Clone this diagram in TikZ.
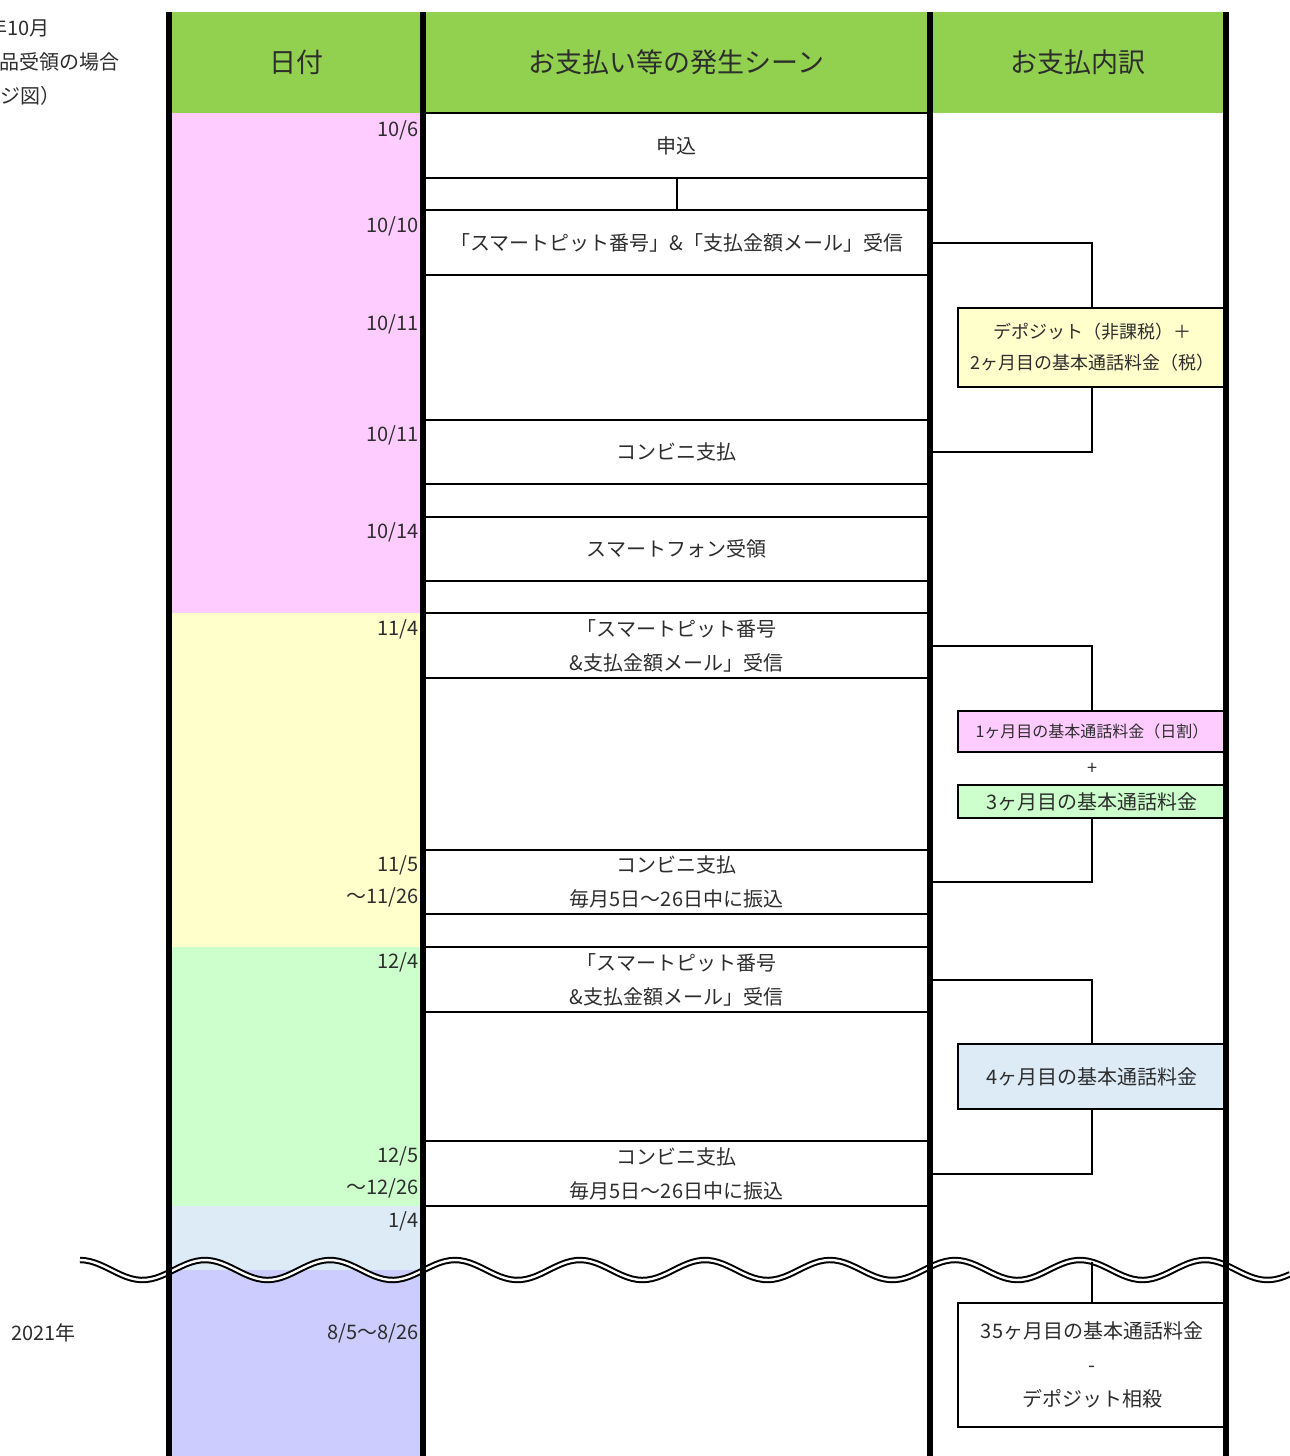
\documentclass[tikz,border=0pt]{standalone}
\usepackage{fontspec}
\setmainfont{Noto Sans CJK JP}
\usepackage{tikz}
\usetikzlibrary{positioning}
\definecolor{headgreen}{RGB}{146,208,80}
\definecolor{pinkbg}{RGB}{255,204,255}
\definecolor{yellowbg}{RGB}{255,255,204}
\definecolor{greenbg}{RGB}{204,255,204}
\definecolor{bluebg}{RGB}{221,235,247}
\definecolor{violetbg}{RGB}{204,204,255}
\definecolor{inkgray}{RGB}{45,45,45}
\tikzset{
  headcell/.style={fill=headgreen, minimum height=50.5pt, inner sep=0pt,
    outer sep=0pt, font=\fontsize{13.5}{16}\selectfont},
  scenecell/.style={draw, line width=1pt, minimum width=251.5pt, inner sep=0pt,
    outer sep=0pt, align=center, font=\fontsize{10}{17}\selectfont},
  paybox/.style={draw, line width=1pt, minimum width=134pt, inner sep=0pt,
    outer sep=0pt, align=center, font=\fontsize{10}{17}\selectfont},
  datelabel/.style={anchor=east, inner sep=0pt, font=\fontsize{10}{12}\selectfont},
  sidenote/.style={anchor=west, inner sep=0pt, font=\fontsize{10}{12}\selectfont},
  link/.style={line width=1pt},
  colline/.style={line width=3pt},
  breakwave/.style={line width=1pt, double=white, double distance=1.2pt}
}

\begin{document}
\begin{tikzpicture}[x=0.5pt, y=-0.5pt, every node/.append style={text=inkgray}]
\useasboundingbox (0,0) rectangle (1290,1456);

% header
\node[headcell, minimum width=127pt] (datehead) at (296,62.5) {日付};
\node[headcell, minimum width=253.5pt, right=0pt of datehead] (scenehead) {お支払い等の発生シーン};
\node[headcell, minimum width=148pt, right=0pt of scenehead] (payhead) {お支払内訳};

% date column
\fill[pinkbg] (169,113) rectangle (423,613);
\fill[yellowbg] (169,613) rectangle (423,947);
\fill[greenbg] (169,947) rectangle (423,1206);
\fill[bluebg] (169,1206) rectangle (423,1270);
\fill[violetbg] (169,1270) rectangle (423,1456);
\foreach \y/\d in {130/{10/6}, 226/{10/10}, 324/{10/11}, 435/{10/11}, 532/{10/14},
    629/{11/4}, 865/{11/5}, 897/{～11/26}, 962/{12/4}, 1156/{12/5}, 1188/{～12/26},
    1221/{1/4}, 1333/{8/5～8/26}}
  \node[datelabel] at (419,\y) {\d};

% scenes
\node[scenecell, minimum height=32.5pt] (apply) at (676.5,145.5) {申込};
\node[scenecell, minimum width=125.75pt, minimum height=16pt,
  below=0pt of apply.south west, anchor=north west] (gapl) {};
\node[scenecell, minimum width=125.75pt, minimum height=16pt, right=0pt of gapl] (gapr) {};
\node[scenecell, minimum height=32.5pt, below=0pt of gapl.south east]
  (mailA) {「スマートピット番号」\&「支払金額メール」受信};
\node[scenecell, minimum height=72.5pt, below=0pt of mailA] (blankA) {};
\node[scenecell, minimum height=32pt, below=0pt of blankA] (payA) {コンビニ支払};
\node[scenecell, minimum height=16.5pt, below=0pt of payA] (blankB) {};
\node[scenecell, minimum height=32pt, below=0pt of blankB] (phone) {スマートフォン受領};
\node[scenecell, minimum height=16pt, below=0pt of phone] (blankC) {};
\node[scenecell, minimum height=32.5pt, below=0pt of blankC]
  (mailB) {「スマートピット番号\\\&支払金額メール」受信};
\node[scenecell, minimum height=86pt, below=0pt of mailB] (blankD) {};
\node[scenecell, minimum height=32pt, below=0pt of blankD]
  (payB) {コンビニ支払\\毎月5日～26日中に振込};
\node[scenecell, minimum height=16.5pt, below=0pt of payB] (blankE) {};
\node[scenecell, minimum height=32.5pt, below=0pt of blankE]
  (mailC) {「スマートピット番号\\\&支払金額メール」受信};
\node[scenecell, minimum height=64.5pt, below=0pt of mailC] (blankF) {};
\node[scenecell, minimum height=32.5pt, below=0pt of blankF]
  (payC) {コンビニ支払\\毎月5日～26日中に振込};

% payment items
\node[paybox, fill=yellowbg, minimum height=39.5pt, font=\fontsize{9}{15.5}\selectfont]
  (deposit) at (1092,347.5) {デポジット（非課税）＋\\2ヶ月目の基本通話料金（税）};
\node[paybox, fill=pinkbg, minimum height=20.5pt, font=\fontsize{8}{10}\selectfont]
  (month1) at (1092,731.5) {1ヶ月目の基本通話料金（日割）};
\node[font=\fontsize{9}{10}\selectfont, inner sep=0pt] (plus) at (1092,769) {+};
\node[paybox, fill=greenbg, minimum height=16.5pt] (month3) at (1092,801.5) {3ヶ月目の基本通話料金};
\node[paybox, fill=bluebg, minimum height=32.5pt] (month4) at (1092,1076.5) {4ヶ月目の基本通話料金};
\node[paybox, fill=white, minimum height=62pt] (month35) at (1092,1365)
  {35ヶ月目の基本通話料金\\-\\デポジット相殺};

\draw[link] (mailA.east) -| (deposit.north);
\draw[link] (deposit.south) |- (payA.east);
\draw[link] (mailB.east) -| (month1.north);
\draw[link] (month3.south) |- (payB.east);
\draw[link] (mailC.east) -| (month4.north);
\draw[link] (month4.south) |- (payC.east);

% side notes
\node[sidenote] (note1) at (-13,28) {年10月};
\node[sidenote] (note2) at (-1,62) {品受領の場合};
\node[sidenote] (note3) at (0,96) {ジ図）};
\node[sidenote] (year) at (11,1333) {2021年};

% break
\draw[breakwave] plot[domain=80:1290, samples=240] (\x, {1270 - 10*cos(2.88*(\x-205))});
\coordinate (cut) at (1092,1262);
\draw[link] (cut) -- (month35.north);

% column rules
\foreach \x in {169,423,930,1226}
  \draw[colline] (\x,12) -- (\x,1456);
\end{tikzpicture}
\end{document}
